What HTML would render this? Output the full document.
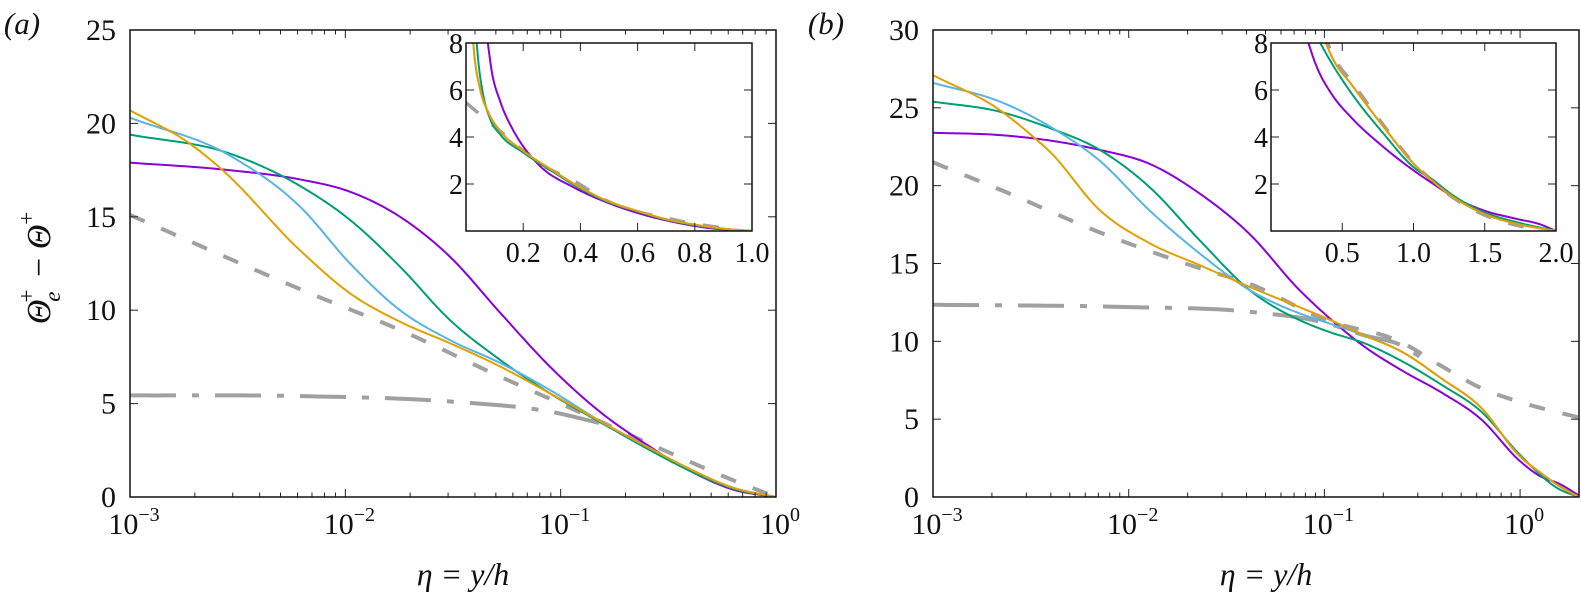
<!DOCTYPE html>
<html><head><meta charset="utf-8"><style>
html,body{margin:0;padding:0;background:#fff;}
svg{display:block;font-family:"Liberation Serif",serif;}
</style></head><body>
<svg id="fig" width="1581" height="597" viewBox="0 0 1581 597" xmlns="http://www.w3.org/2000/svg"></svg>
<script>
// ---------- DATA ----------
// Panel (a): x = log10(eta)
const aPurpleX=[-3,-2.54,-2.21,-1.978,-1.746,-1.514,-1.28,-1.05,-0.8,-0.6,-0.4,-0.2,0];
const aPurpleY=[17.9,17.5,17.0,16.34,15.0,12.86,9.85,6.98,4.4,2.8,1.4,0.4,0];
const aGreenX=[-3,-2.54,-2.21,-1.978,-1.746,-1.514,-1.28,-1.05,-0.8,-0.6,-0.4,-0.2,0];
const aGreenY=[19.4,18.4,16.65,14.83,12.33,9.47,7.33,5.55,3.9,2.6,1.4,0.45,0];
const aBlueX=[-3,-2.54,-2.21,-1.978,-1.746,-1.514,-1.28,-1.05,-0.8,-0.6,-0.4,-0.2,0];
const aBlueY=[20.3,18.3,15.54,12.5,10.0,8.4,7.17,5.73,3.95,2.7,1.5,0.5,0];
const aOrangeX=[-3,-2.72,-2.58,-2.21,-1.978,-1.746,-1.514,-1.28,-1.05,-0.8,-0.6,-0.4,-0.2,0];
const aOrangeY=[20.7,18.9,17.6,13.2,10.9,9.38,8.23,6.98,5.55,3.95,2.7,1.5,0.5,0];
const aDashX=[-3,-2.163,-1.746,-1.28,-1,-0.5,-0.2,0];
const aDashY=[15.1,10.9,8.94,6.44,5.0,2.4,0.9,0];
const aDotX=[-3,-2.2,-1.5,-1.05,-0.78];
const aDotY=[5.44,5.4,5.1,4.57,3.85];
// Panel (b)
const bPurpleX=[-3,-2.658,-2.403,-2.148,-1.893,-1.638,-1.383,-1.128,-0.975,-0.8,-0.6,-0.4,-0.2,0,0.1,0.2,0.301];
const bPurpleY=[23.4,23.25,22.9,22.3,21.4,19.5,16.9,13.3,11.5,9.7,8.1,6.7,5.0,2.3,1.35,0.85,0.1];
const bGreenX=[-3,-2.658,-2.403,-2.148,-1.893,-1.638,-1.383,-1.128,-0.975,-0.8,-0.6,-0.4,-0.2,0,0.2,0.301];
const bGreenY=[25.4,24.75,23.7,22.3,19.9,16.5,13.3,11.37,10.6,9.9,8.7,7.2,5.5,2.7,0.5,0];
const bBlueX=[-3,-2.658,-2.403,-2.148,-1.893,-1.638,-1.383,-1.128,-0.975,-0.8,-0.6,-0.4,-0.2,0,0.1,0.2,0.301];
const bBlueY=[26.6,25.4,23.8,21.6,18.4,15.65,13.3,11.8,11.15,10.4,9.3,7.6,5.75,2.6,1.6,0.7,0];
const bOrangeX=[-3,-2.658,-2.488,-2.403,-2.148,-1.893,-1.638,-1.383,-1.128,-0.975,-0.8,-0.6,-0.4,-0.2,0,0.1,0.2,0.301];
const bOrangeY=[27.1,24.85,23.14,22.18,18.43,16.3,14.9,13.5,12.2,11.4,10.4,9.3,7.6,5.75,2.6,1.6,0.7,0];
const bDashX=[-3,-2.63,-2.148,-1.638,-1.383,-1,-0.6,-0.4,-0.2,0,0.301];
const bDashY=[21.5,19.6,17.0,14.7,13.7,11.4,9.9,8.4,7.0,6.1,5.1];
const bDotX=[-3,-2,-1.383,-0.985,-0.8,-0.6,-0.5];
const bDotY=[12.35,12.2,11.9,11.15,10.4,9.7,8.9];
// Inset (a): linear eta
const iaPurpleX=[0.07,0.09,0.12,0.16,0.2,0.26,0.376,0.49,0.61,0.727,0.84,1.0];
const iaPurpleY=[8.6,6.8,5.5,4.4,3.6,2.75,1.86,1.23,0.73,0.38,0.14,0];
const iaGreenX=[0.033,0.045,0.06,0.085,0.12,0.2,0.3,0.4,0.5,0.6,0.7,0.8,0.9,1.0];
const iaGreenY=[8.6,7.0,5.8,4.75,4.1,3.34,2.55,1.8,1.22,0.83,0.48,0.25,0.09,0];
const iaBlueX=[0.02,0.03,0.05,0.08,0.12,0.2,0.3,0.4,0.5,0.6,0.7,0.8,0.9,1.0];
const iaBlueY=[8.8,7.4,6.0,5.0,4.25,3.41,2.6,1.85,1.25,0.85,0.5,0.27,0.1,0];
const iaOrangeX=[0.02,0.03,0.05,0.08,0.12,0.2,0.3,0.4,0.5,0.6,0.7,0.8,0.9,1.0];
const iaOrangeY=[8.8,7.4,6.0,5.0,4.25,3.41,2.6,1.85,1.25,0.85,0.5,0.27,0.1,0];
const iaDashX=[0,0.125,0.26,0.376,0.49,0.727,0.95];
const iaDashY=[5.46,4.19,2.85,2.14,1.3,0.48,0.03];
// Inset (b)
const ibPurpleX=[0.23,0.32,0.44,0.56,0.79,1.0,1.14,1.26,1.49,1.72,1.89,2.0];
const ibPurpleY=[8.6,7.0,5.7,4.85,3.57,2.58,2.0,1.52,0.88,0.52,0.28,0];
const ibGreenX=[0.3,0.44,0.56,0.79,1.0,1.14,1.26,1.49,1.72,2.0];
const ibGreenY=[8.5,7.0,5.9,4.14,2.72,2.16,1.59,0.81,0.38,0];
const ibBlueX=[0.35,0.44,0.56,0.79,1.0,1.14,1.26,1.49,1.72,2.0];
const ibBlueY=[8.5,7.26,6.27,4.43,2.87,2.09,1.52,0.74,0.31,0];
const ibOrangeX=[0.35,0.44,0.56,0.79,1.0,1.14,1.26,1.49,1.72,2.0];
const ibOrangeY=[8.5,7.26,6.27,4.43,2.87,2.09,1.52,0.74,0.31,0];
const ibDashX=[0.37,0.44,0.56,0.79,1.0,1.14,1.26,1.49,1.72,1.9];
const ibDashY=[8.4,7.4,6.4,4.5,2.9,2.1,1.5,0.7,0.25,0.05];

const aYTicks=[0,5,10,15,20,25];
const bYTicks=[0,5,10,15,20,25,30];
const xDecades=[-3,-2,-1,0];
const iaXTicks=[0.2,0.4,0.6,0.8,1.0];
const ibXTicks=[0.5,1.0,1.5,2.0];
const iYTicks=[2,4,6,8];

const C={purple:'#8b00d6',green:'#009e73',blue:'#56b4e9',orange:'#e69f00',gray:'#a0a0a0'};
const NS='http://www.w3.org/2000/svg';
const svg=document.getElementById('fig');
function mk(tag,attrs,parent){const e=document.createElementNS(NS,tag);for(const k in attrs)e.setAttribute(k,attrs[k]);(parent||svg).appendChild(e);return e;}
function lin(d0,d1,r0,r1){return v=>r0+(v-d0)/(d1-d0)*(r1-r0);}
function pathD(xs,ys,sx,sy){
  const n=xs.length,d=[],m=new Array(n);
  for(let i=0;i<n-1;i++)d.push((ys[i+1]-ys[i])/(xs[i+1]-xs[i]));
  m[0]=d[0];m[n-1]=d[n-2];
  for(let i=1;i<n-1;i++){const h0=xs[i]-xs[i-1],h1=xs[i+1]-xs[i];m[i]=(d[i-1]*h1+d[i]*h0)/(h0+h1);}
  let s='';
  for(let i=0;i<n-1;i++){
    const h=xs[i+1]-xs[i];
    for(let k=0;k<=20;k++){
      if(i>0&&k===0)continue;
      const t=k/20,t2=t*t,t3=t2*t;
      const y=(2*t3-3*t2+1)*ys[i]+(t3-2*t2+t)*h*m[i]+(-2*t3+3*t2)*ys[i+1]+(t3-t2)*h*m[i+1];
      const x=xs[i]+t*h;
      s+=(s?'L':'M')+sx(x).toFixed(2)+','+sy(y).toFixed(2);
    }
  }
  return s;
}
function series(g,xs,ys,sx,sy,color,w,dash,name){
  const p=mk('path',{d:pathD(xs,ys,sx,sy),fill:'none',stroke:color,'stroke-width':w,'stroke-linejoin':'round'},g);
  if(dash)p.setAttribute('stroke-dasharray',dash);
  
  
}
function text(x,y,str,size,anchor,parent,name){
  const t=mk('text',{x:x,y:y,'font-size':size,'text-anchor':anchor||'middle',fill:'#111'},parent);
  t.textContent=str;
  
  
  return t;
}
function powLabel(x,y,exp,g,name){
  const t=mk('text',{x:x,y:y,'font-size':30,'text-anchor':'middle',fill:'#111'},g);
  
  
  const a=mk('tspan',{},t);a.textContent='10';
  const b=mk('tspan',{'font-size':20,dy:-13},t);b.textContent=exp;
}

function panel(cfg){
  const g=mk('g',{});
  
  
  const sx=lin(-3,cfg.xmaxLog,cfg.L,cfg.R), sy=lin(0,cfg.ymax,cfg.B,cfg.T);
  const cid='clip-'+cfg.name;
  const cp=mk('clipPath',{id:cid},g);mk('rect',{x:cfg.L,y:cfg.T,width:cfg.R-cfg.L,height:cfg.B-cfg.T},cp);
  const lg=mk('g',{'clip-path':'url(#'+cid+')'},g);
  
  
  const S=cfg.s;
  series(lg,S.dotX,S.dotY,sx,sy,C.gray,4,'46,16,7,16','dash-dot-reference');
  series(lg,S.dashX,S.dashY,sx,sy,C.gray,4,'16,18','dashed-reference');
  series(lg,S.pX,S.pY,sx,sy,C.purple,2,null,'purple-curve');
  series(lg,S.gX,S.gY,sx,sy,C.green,2,null,'green-curve');
  series(lg,S.bX,S.bY,sx,sy,C.blue,2,null,'blue-curve');
  series(lg,S.oX,S.oY,sx,sy,C.orange,2,null,'orange-curve');
  const tk=mk('g',{stroke:'#222','stroke-width':1},g);
  
  
  cfg.yticks.forEach(v=>{const y=sy(v);
    mk('line',{x1:cfg.L,x2:cfg.L+8,y1:y,y2:y},tk);mk('line',{x1:cfg.R,x2:cfg.R-8,y1:y,y2:y},tk);
    text(cfg.L-14,y+10,String(v),30,'end',g,'y-tick-label');});
  for(let d=-3;d<cfg.xmaxLog;d++){
    for(let m=1;m<10;m++){const lv=d+Math.log10(m);if(lv>cfg.xmaxLog+1e-9)break;const x=sx(lv);const len=m==1?8:4.5;
      mk('line',{x1:x,x2:x,y1:cfg.B,y2:cfg.B-len},tk);mk('line',{x1:x,x2:x,y1:cfg.T,y2:cfg.T+len},tk);}
  }
  xDecades.forEach(d=>{if(d<=cfg.xmaxLog)powLabel(sx(d)+4,cfg.B+37,d===0?'0':'−'+(-d),g,'x-tick-label');});
  mk('rect',{x:cfg.L,y:cfg.T,width:cfg.R-cfg.L,height:cfg.B-cfg.T,fill:'none',stroke:'#111','stroke-width':1.5},g);
  const xl=mk('text',{x:(cfg.L+cfg.R)/2+10,y:585,'font-size':32,'text-anchor':'middle',fill:'#111','font-style':'italic'},g);
  
  
  xl.textContent='η = y/h';
  text(cfg.labX,34,cfg.tag,31,'middle',g,'panel-label').setAttribute('font-style','italic');
  const I=cfg.inset;
  const ig=mk('g',{},g);
  
  
  const ix=lin(0,I.xmax,I.L,I.R), iy=lin(0,8,I.B,I.T);
  mk('rect',{x:I.L,y:I.T,width:I.R-I.L,height:I.B-I.T,fill:'#fff'},ig);
  const icid='clip-in-'+cfg.name;
  const icp=mk('clipPath',{id:icid},ig);mk('rect',{x:I.L,y:I.T,width:I.R-I.L,height:I.B-I.T},icp);
  const il=mk('g',{'clip-path':'url(#'+icid+')'},ig);
  series(il,I.dashX,I.dashY,ix,iy,C.gray,3.5,'16,18','inset-dashed-reference');
  series(il,I.pX,I.pY,ix,iy,C.purple,2,null,'inset-purple-curve');
  series(il,I.gX,I.gY,ix,iy,C.green,2,null,'inset-green-curve');
  series(il,I.bX,I.bY,ix,iy,C.blue,2,null,'inset-blue-curve');
  series(il,I.oX,I.oY,ix,iy,C.orange,2,null,'inset-orange-curve');
  const itk=mk('g',{stroke:'#222','stroke-width':1},ig);
  I.xticks.forEach(v=>{const x=ix(v);mk('line',{x1:x,x2:x,y1:I.B,y2:I.B-8},itk);mk('line',{x1:x,x2:x,y1:I.T,y2:I.T+8},itk);
    text(x,I.B+31,v.toFixed(1),28,'middle',ig,'inset-x-tick-label');});
  iYTicks.forEach(v=>{const y=iy(v);mk('line',{x1:I.L,x2:I.L+8,y1:y,y2:y},itk);mk('line',{x1:I.R,x2:I.R-8,y1:y,y2:y},itk);
    text(I.L-3,y+10,String(v),28,'end',ig,'inset-y-tick-label');});
  mk('rect',{x:I.L,y:I.T,width:I.R-I.L,height:I.B-I.T,fill:'none',stroke:'#111','stroke-width':1.5},ig);
}

panel({name:'panel-a',tag:'(a)',labX:22,L:130,R:776,T:30,B:497,xmaxLog:0,ymax:25,yticks:aYTicks,
  s:{pX:aPurpleX,pY:aPurpleY,gX:aGreenX,gY:aGreenY,bX:aBlueX,bY:aBlueY,oX:aOrangeX,oY:aOrangeY,dashX:aDashX,dashY:aDashY,dotX:aDotX,dotY:aDotY},
  inset:{L:466,R:752,T:43,B:231,xmax:1,xticks:iaXTicks,pX:iaPurpleX,pY:iaPurpleY,gX:iaGreenX,gY:iaGreenY,bX:iaBlueX,bY:iaBlueY,oX:iaOrangeX,oY:iaOrangeY,dashX:iaDashX,dashY:iaDashY}});
panel({name:'panel-b',tag:'(b)',labX:826,L:933,R:1579,T:30,B:497,xmaxLog:Math.log10(2),ymax:30,yticks:bYTicks,
  s:{pX:bPurpleX,pY:bPurpleY,gX:bGreenX,gY:bGreenY,bX:bBlueX,bY:bBlueY,oX:bOrangeX,oY:bOrangeY,dashX:bDashX,dashY:bDashY,dotX:bDotX,dotY:bDotY},
  inset:{L:1271,R:1556,T:43,B:231,xmax:2,xticks:ibXTicks,pX:ibPurpleX,pY:ibPurpleY,gX:ibGreenX,gY:ibGreenY,bX:ibBlueX,bY:ibBlueY,oX:ibOrangeX,oY:ibOrangeY,dashX:ibDashX,dashY:ibDashY}});

const yt=mk('text',{transform:'translate(50,268) rotate(-90)','font-size':34,'text-anchor':'middle',fill:'#111'});


const t1=mk('tspan',{'font-style':'italic'},yt);t1.textContent='Θ';
const t2=mk('tspan',{'font-size':23,'font-style':'italic',dy:10,dx:-2},yt);t2.textContent='e';
const t3=mk('tspan',{'font-size':23,dy:-26,dx:-11},yt);t3.textContent='+';
const t4=mk('tspan',{dy:16,dx:4},yt);t4.textContent=' − ';
const t5=mk('tspan',{'font-style':'italic'},yt);t5.textContent='Θ';
const t6=mk('tspan',{'font-size':23,dy:-16},yt);t6.textContent='+';
</script>
</body></html>
